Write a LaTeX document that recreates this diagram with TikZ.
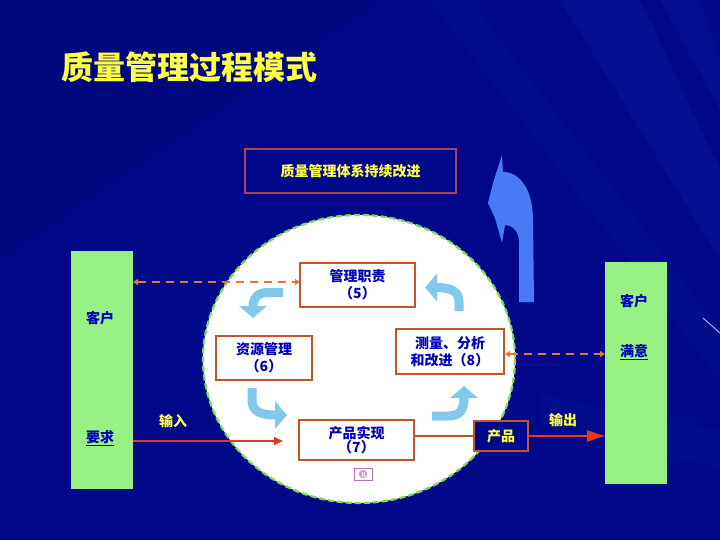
\documentclass[tikz,border=0pt]{standalone}
\usepackage{fontspec}
\newfontfamily\cjk{Noto Sans CJK SC}
\usetikzlibrary{arrows.meta}
\definecolor{bgblue}{RGB}{2,8,138}
\definecolor{streak}{RGB}{40,60,200}
\definecolor{gfill}{RGB}{150,240,130}
\definecolor{brownb}{RGB}{195,85,45}
\definecolor{topb}{RGB}{175,65,85}
\definecolor{tblue}{RGB}{0,0,185}
\definecolor{tyellow}{RGB}{255,255,70}
\definecolor{sky}{RGB}{130,200,235}
\definecolor{bigblue}{RGB}{72,122,245}
\definecolor{odash}{RGB}{230,115,55}
\definecolor{redar}{RGB}{232,55,30}
\definecolor{cgreen}{RGB}{125,220,85}
\definecolor{iconp}{RGB}{185,110,200}
\definecolor{lav}{RGB}{190,160,255}
\begin{document}
\begin{tikzpicture}[x=1pt,y=-1pt,
  every node/.style={font=\cjk\bfseries\fontsize{14pt}{17pt}\selectfont},
  gbox/.style={draw=none,fill=gfill,inner sep=0pt},
  wbox/.style={draw=brownb,line width=1.6pt,fill=white,inner sep=0pt,align=center,text=tblue},
  btxt/.style={text=tblue,inner sep=1pt},
  ytxt/.style={text=tyellow,inner sep=1pt},
  dashline/.style={draw=odash,line width=1.4pt,dash pattern=on 8pt off 6pt,
     {Triangle[width=6pt,length=5pt]}-{Triangle[width=6pt,length=5pt]}},
  skyarrow/.style={draw=sky,line width=9pt,-{Triangle[width=27pt,length=12pt]}},
  redarrow/.style={draw=redar,line width=2.2pt}
]
\useasboundingbox (0,0) rectangle (720,540);
% background
\fill[bgblue] (0,0) rectangle (720,540);
\fill[black,opacity=0.08] (0,0) -- (380,0) -- (0,260) -- cycle;
\fill[streak,opacity=0.12] (560,0) -- (640,0) -- (720,170) -- (720,260) -- cycle;
\fill[streak,opacity=0.10] (660,0) -- (700,0) -- (720,60) -- (720,110) -- cycle;
\fill[streak,opacity=0.08] (430,0) -- (470,0) -- (720,330) -- (720,380) -- cycle;
\fill[streak,opacity=0.08] (540,395) -- (720,430) -- (720,470) -- (540,420) -- cycle;
\draw[draw=lav,line width=1pt] (703,318) -- (720,333);

% title
\node[text=tyellow,font=\cjk\bfseries\fontsize{32pt}{36pt}\selectfont,inner sep=0pt] (title) at (189,67) {质量管理过程模式};

% top box
\node[draw=topb,line width=1.6pt,minimum width=211pt,minimum height=44pt,inner sep=0pt,
  text=tyellow] (top) at (350.5,171) {质量管理体系持续改进};

% big blue arrow
\fill[bigblue] (519,302) -- (519,242) .. controls (519,231) and (512,225) .. (505,225)
  -- (502,243) -- (495,218) -- (488,203) -- (493,183) -- (502,155) -- (503,172)
  .. controls (520,172) and (533,190) .. (533,220) -- (534,302) -- cycle;

% circle
\draw[fill=white,draw=cgreen,line width=2.2pt,dash pattern=on 6pt off 3pt] (359,359) ellipse [x radius=156, y radius=144];

% customer boxes
\node[gbox,minimum width=62pt,minimum height=238pt] (lc) at (102,370) {};
\node[gbox,minimum width=62pt,minimum height=222pt] (rc) at (636,373) {};
\node[btxt] (kh1) at (100,318) {客户};
\node[btxt] (yq) at (100,438) {\underline{要求}};
\node[btxt] (kh2) at (634,301) {客户};
\node[btxt] (my) at (634,352) {\underline{满意}};

% process boxes
\node[wbox,minimum width=115pt,minimum height=44pt] (m5) at (357.5,285) {管理职责\\（5）};
\node[wbox,minimum width=96pt,minimum height=44pt] (m6) at (264,358) {资源管理\\（6）};
\node[wbox,minimum width=108pt,minimum height=45pt] (m8) at (450,351.5) {测量、分析\\和改进（8）};
\node[wbox,minimum width=115pt,minimum height=40pt,font=\cjk\bfseries\fontsize{14pt}{14pt}\selectfont] (m7) at (356.5,440) {产品实现\\（7）};
\node[draw=brownb,line width=1.6pt,fill=bgblue,minimum width=54pt,minimum height=30pt,inner sep=0pt,text=tyellow] (cp) at (501,436) {产品};

% small icon
\node[draw=iconp,line width=0.8pt,fill=white,minimum width=18pt,minimum height=12pt,inner sep=0pt] (icon) at (363,474) {};
\fill[iconp!70] (icon.center) circle [radius=4.2];
\draw[white,line width=0.7pt] (362,471.5) -- (362,476.5) (364.5,471.5) -- (364.5,476.5);

% sky blue bent arrows
\draw[skyarrow] (283,292.5) -- (268,292.5) .. controls (258,292.5) and (253,298) .. (253,318);
\draw[skyarrow] (459,311) -- (459,302) .. controls (459,292) and (452,287.5) .. (425,287.5);
\draw[skyarrow] (252,388) -- (252,400) .. controls (252,410) and (258,415) .. (287,415);
\draw[skyarrow] (432,416) -- (448,416) .. controls (460,416) and (464,410) .. (464,386);

% connectors
\coordinate (l1) at (133,282);
\coordinate (r1) at (300,282);
\draw[dashline] (l1) -- (r1);
\coordinate (l2) at (505,354);
\coordinate (r2) at (605,354);
\draw[dashline] (l2) -- (r2);
\draw[brownb,line width=1.6pt] (cp.west -| m7.east) -- (cp.west);
\coordinate (inend) at (283,441);
\draw[redarrow,-{Triangle[width=8pt,length=9pt]}] (lc.east |- inend) -- (inend);
\draw[redarrow,-{Triangle[width=11pt,length=18pt]}] (cp.east) -- (rc.west |- cp.east);
\node[ytxt] (shuru) at (173,421) {输入};
\node[ytxt] (shuchu) at (563,420) {输出};
\end{tikzpicture}
\end{document}
